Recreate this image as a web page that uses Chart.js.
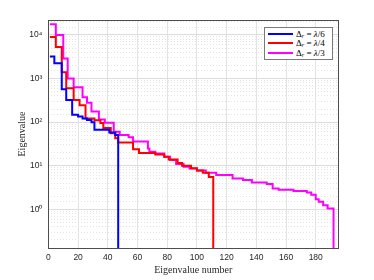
<!DOCTYPE html>
<html>
<head>
<meta charset="utf-8">
<script src="https://cdn.jsdelivr.net/npm/chart.js@4/dist/chart.umd.min.js"></script>
<style>
  body { margin: 0; background: #fff; overflow: hidden; }
  #wrap { position: relative; width: 374px; height: 280px; }
  #legend {
    position: absolute; left: 264px; top: 27px; width: 67px;
    border: 1px solid #7a7a7a; background: #fff; padding: 1px 0;
    font-family: "Liberation Serif", serif; font-size: 9px; color: #000;
  }
  #legend .row { display: flex; align-items: center; height: 9.6px; }
  #legend .swatch { width: 25px; height: 2px; margin: 0 3px 0 3px; }
  #legend sub { font-size: 6px; vertical-align: -1px; }
</style>
</head>
<body>
<div id="wrap">
  <canvas id="chart" width="374" height="280"></canvas>
  <div id="legend"></div>
</div>
<script>
// eigenvalue index where each plateau starts, and the plateau value
const sixthIdx = [1, 4, 9, 12, 16, 20, 23, 26, 29, 31, 41, 45, 47];
const sixthVal = [3200, 2250, 570, 320, 148, 135, 122, 112, 100, 67, 58, 51, 0.05];

const quarterIdx = [1, 5, 9, 12, 17, 21, 25, 31, 35, 37, 42, 45, 47, 57, 61, 72, 78, 81, 87, 90, 96, 100, 104, 108, 111];
const quarterVal = [9000, 5300, 1400, 600, 320, 245, 122, 110, 95, 73, 56, 43, 34, 24, 19.5, 18, 16, 14, 11.5, 10, 8.8, 7.8, 6.9, 5.5, 0.05];

const thirdIdx = [1, 5, 10, 13, 17, 23, 26, 29, 34, 38, 44, 48, 54, 57, 67, 68, 72, 78, 82, 86, 91, 95, 100, 106, 113, 124, 131, 137, 147, 151, 155, 165, 174, 177, 180, 182, 185, 188, 192];
const thirdVal = [17500, 10000, 2900, 1000, 630, 370, 280, 175, 115, 97, 60, 50.5, 45, 36, 25, 21, 19, 16, 13.5, 11, 9.5, 8.7, 7.8, 6.9, 6.1, 5.1, 4.7, 4.15, 3.8, 3.0, 2.8, 2.65, 2.45, 2.16, 1.7, 1.5, 1.25, 1.05, 0.05];

const seriesNames = ['λ/6', 'λ/4', 'λ/3'];
const seriesColors = ['#0000ff', '#ff0000', '#ff00ff'];
const xTicks = [0, 20, 40, 60, 80, 100, 120, 140, 160, 180];

const sup = ['⁰', '¹', '²', '³', '⁴', '⁵'];
const isDecade = v => Math.abs(Math.log10(v) - Math.round(Math.log10(v))) < 1e-9;

function pts(idx, val) {
  return idx.map((n, i) => ({ x: n, y: val[i] }));
}

const data = [pts(sixthIdx, sixthVal), pts(quarterIdx, quarterVal), pts(thirdIdx, thirdVal)];

const boxPlugin = {
  id: 'box',
  afterDatasetsDraw(chart) {
    const a = chart.chartArea, ctx = chart.ctx;
    ctx.save();
    ctx.strokeStyle = '#4d4d4d';
    ctx.lineWidth = 1;
    ctx.strokeRect(Math.round(a.left) + 0.5, Math.round(a.top) + 0.5,
      Math.round(a.right - a.left), Math.round(a.bottom - a.top));
    ctx.restore();
  }
};

const tickFont = { family: 'Liberation Sans', size: 8.5 };
const titleFont = { family: 'Liberation Serif', size: 10 };

new Chart(document.getElementById('chart'), {
  type: 'line',
  data: {
    datasets: data.map((d, i) => ({
      label: seriesNames[i],
      data: d,
      borderColor: seriesColors[i],
      backgroundColor: seriesColors[i],
      borderWidth: 2,
      pointRadius: 0,
      stepped: true,
      fill: false
    }))
  },
  options: {
    responsive: false,
    animation: false,
    devicePixelRatio: 1,
    layout: { padding: { left: 8.4, top: 20, right: 36, bottom: 0 } },
    plugins: { legend: { display: false }, tooltip: { enabled: false } },
    scales: {
      x: {
        type: 'linear', min: 0, max: 195,
        afterBuildTicks: s => { s.ticks = xTicks.map(v => ({ value: v })); },
        afterFit: s => { s.height = 32; },
        grid: { color: '#e3e3e3', drawTicks: false },
        border: { display: false },
        ticks: { font: tickFont, color: '#262626', padding: 5, maxRotation: 0 },
        title: { display: true, text: 'Eigenvalue number', font: titleFont, color: '#262626', padding: { top: 0, bottom: 4 } }
      },
      y: {
        type: 'logarithmic', min: 0.13, max: 22000,
        afterBuildTicks: s => { s.ticks = s.ticks.filter(t => isDecade(t.value)); },
        afterFit: s => { s.width = 40; },
        grid: { color: '#dcdcdc', drawTicks: false },
        border: { display: false },
        ticks: {
          font: tickFont, color: '#262626', padding: 6, autoSkip: false,
          callback: v => '10' + sup[Math.round(Math.log10(v))]
        },
        title: { display: true, text: 'Eigenvalue', font: titleFont, color: '#262626', padding: { top: 8, bottom: 0 } }
      },
      yMinor: {
        type: 'logarithmic', position: 'left', min: 0.13, max: 22000,
        afterBuildTicks: s => { s.ticks = s.ticks.filter(t => !isDecade(t.value) && t.value > 0.13 && t.value < 22000); },
        afterFit: s => { s.width = 0; },
        grid: { color: '#e4e4e4', drawTicks: false },
        border: { display: false, dash: [1, 2] },
        ticks: { display: false, autoSkip: false }
      }
    }
  },
  plugins: [boxPlugin]
});

// legend box in the top right corner of the axes
const legend = document.getElementById('legend');
seriesNames.forEach((name, i) => {
  const row = document.createElement('div');
  row.className = 'row';
  row.innerHTML = '<span class="swatch" style="background:' + seriesColors[i] + '"></span>' +
    '<span>Δ<sub><i>r</i></sub> = <i>λ</i>/' + name.split('/')[1] + '</span>';
  legend.appendChild(row);
});
</script>
</body>
</html>
